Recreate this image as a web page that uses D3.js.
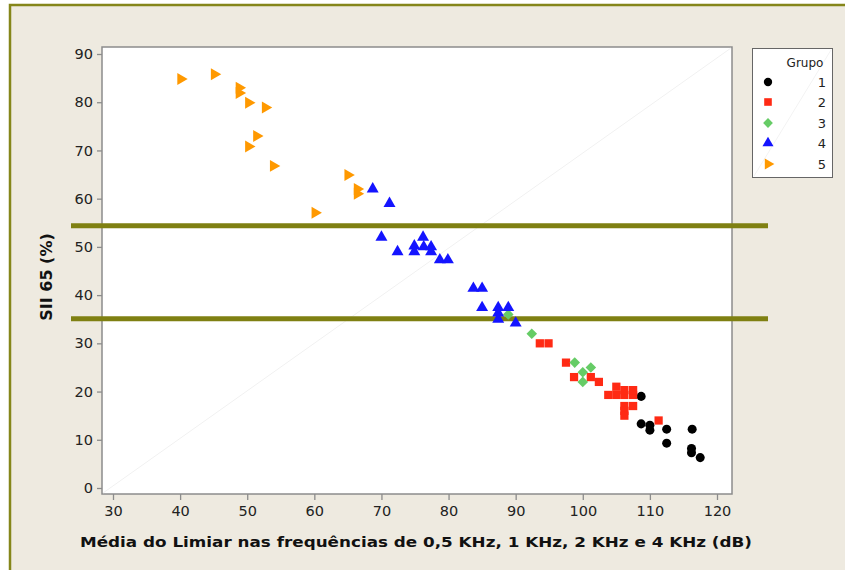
<!DOCTYPE html>
<html><head><meta charset="utf-8">
<script src="https://cdn.jsdelivr.net/npm/d3@7"></script>
<style>body{margin:0;background:#fff}svg{display:block}text{font-family:"DejaVu Sans",Verdana,sans-serif}</style>
</head><body><svg id="c" width="845" height="570"></svg>
<script>
const xTicks=[30,40,50,60,70,80,90,100,110,120];
const yTicks=[0,10,20,30,40,50,60,70,80,90];
const groups=["1","2","3","4","5"];
const g1x=[108.7,108.7,110,110,112.5,112.5,116.3,116.2,116.2,117.5];
const g1y=[19,13.3,13,12,12.2,9.3,12.2,8.2,7.3,6.3];
const g2x=[93.6,94.9,97.5,98.7,101.2,102.4,105,103.8,105,106.2,107.5,106.2,107.5,106.2,107.5,106.2,106.2,111.3];
const g2y=[30,30,26,23,23,22,21,19.3,19.3,19.3,19.3,20.3,20.3,17,17,16,15,14];
const g3x=[88.9,92.4,98.8,100,101.2,100];
const g3y=[36,32,26,24,25,22];
const g4x=[68.7,71.2,70,72.4,74.9,74.9,76.2,76.3,77.4,77.4,78.7,79.9,83.7,85,85,87.4,88.9,87.4,87.4,90];
const g4y=[62,59,52,49,50.2,49,52,50,50,49,47.3,47.3,41.4,41.4,37.4,37.4,37.4,36.3,35,34.2];
const g5x=[40.1,45.1,48.8,48.8,50.2,52.7,51.4,50.2,53.9,65,66.4,66.4,60.1];
const g5y=[84.8,85.8,83,81.9,79.9,78.9,73,70.8,66.8,64.9,62,61,57.1];
const refLines=[54.4,35.1];
const colors=["#000000","#ff2a14","#66cc66","#1414ff","#ff9900"];
const xTitle="Média do Limiar nas frequências de 0,5 KHz, 1 KHz, 2 KHz e 4 KHz (dB)";
const yTitle="SII 65 (%)";
const legendTitle="Grupo";

const svg=d3.select("#c");
svg.append("rect").attr("x",10).attr("y",5).attr("width",900).attr("height",700)
  .attr("fill","#eeeae0").attr("stroke","#85861a").attr("stroke-width",2.5);

const L=102,R=732,T=47,B=494;
const x=d3.scaleLinear().domain([30,120]).range([113,717]);
const y=d3.scaleLinear().domain([0,90]).range([488,54]);

svg.append("rect").attr("x",L).attr("y",T).attr("width",R-L).attr("height",B-T)
  .attr("fill","#fff").attr("stroke","#8c8c8c").attr("stroke-width",1.5);
svg.append("line").attr("x1",L+1).attr("y1",B-1).attr("x2",R-1).attr("y2",T+1)
  .attr("stroke","#f1f1f1").attr("stroke-width",1);

const xa=svg.append("g").attr("transform",`translate(0,${B})`)
  .call(d3.axisBottom(x).tickValues(xTicks).tickSize(6).tickPadding(6));
const ya=svg.append("g").attr("transform",`translate(${L},0)`)
  .call(d3.axisLeft(y).tickValues(yTicks).tickSize(5).tickPadding(4));
[xa,ya].forEach(a=>{a.select(".domain").remove();
  a.selectAll(".tick line").attr("stroke","#8c8c8c").attr("stroke-width",1.3);
  a.selectAll("text").attr("font-size",14.5).attr("fill","#222").attr("font-family","'DejaVu Sans Condensed','DejaVu Sans',sans-serif");});

refLines.forEach(v=>svg.append("line").attr("x1",71).attr("x2",768).attr("y1",y(v)).attr("y2",y(v))
  .attr("stroke","#7f8012").attr("stroke-width",5));

const shapes=[d3.symbolCircle,d3.symbolSquare,d3.symbolSquare,d3.symbolTriangle,d3.symbolTriangle];
const sizes=[64,68,56,62,62];
const rot=[0,0,45,0,90];
const xs=[g1x,g2x,g3x,g4x,g5x], ys=[g1y,g2y,g3y,g4y,g5y];
xs.forEach((xv,i)=>{
  const data=xv.map((v,k)=>[v,ys[i][k]]);
  svg.append("g").selectAll("path").data(data).join("path")
    .attr("d",d3.symbol(shapes[i],sizes[i]))
    .attr("transform",d=>`translate(${x(d[0])},${y(d[1])}) rotate(${rot[i]})`)
    .attr("fill",colors[i]);
});

const lg=svg.append("g");
lg.append("rect").attr("x",752.5).attr("y",48.5).attr("width",80).attr("height",129)
  .attr("fill","#fff").attr("stroke","#666").attr("stroke-width",1);
lg.append("line").attr("x1",754).attr("y1",176).attr("x2",831).attr("y2",50).attr("stroke","#f3f3f3");
lg.append("text").attr("x",805).attr("y",67).attr("text-anchor","middle").attr("font-size",12).attr("fill","#222").text(legendTitle);
const ly=[82,102,123,143,164];
groups.forEach((g,i)=>{
  lg.append("path").attr("d",d3.symbol(shapes[i],sizes[i]*0.85))
    .attr("transform",`translate(768,${ly[i]}) rotate(${rot[i]})`).attr("fill",colors[i]);
  lg.append("text").attr("x",826).attr("y",ly[i]+5).attr("text-anchor","end").attr("font-size",13).attr("fill","#222").text(g);
});

svg.append("text").attr("x",416).attr("y",547).attr("text-anchor","middle").attr("font-size",14.5)
  .attr("font-weight","bold").attr("fill","#111").attr("textLength",672).attr("lengthAdjust","spacingAndGlyphs").text(xTitle);
svg.append("text").attr("transform","translate(52,277) rotate(-90)").attr("text-anchor","middle")
  .attr("font-size",16).attr("font-weight","bold").attr("fill","#111").text(yTitle);
</script></body></html>
